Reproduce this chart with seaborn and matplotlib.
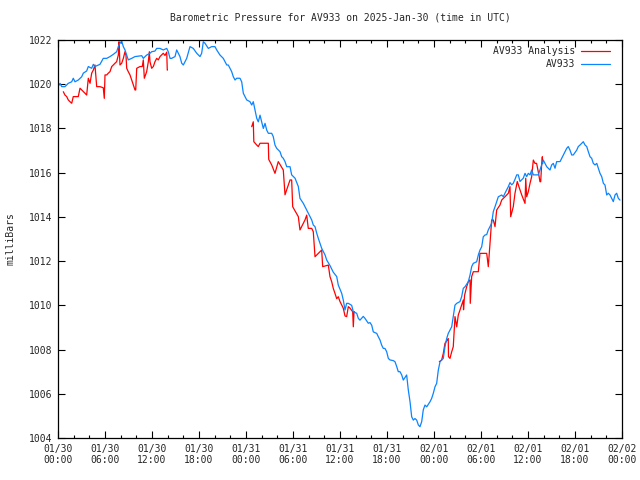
import matplotlib
matplotlib.use('Agg')
import matplotlib.pyplot as plt
import matplotlib.dates as mdates
import seaborn as sns
import pandas as pd
import numpy as np

# hours after 2025-01-30 00:00 UTC, pressure in millibars
station_hours = [
    0.0, 0.26, 0.47, 0.89, 1.31, 1.75, 1.95, 2.17, 2.59, 3.03, 3.23, 3.66, 3.87, 4.30, 4.51, 4.72,
    5.36, 5.78, 6.22, 6.64, 7.06, 7.49, 7.70, 7.91, 8.13, 8.34, 8.55, 8.77, 8.97, 9.41, 9.83,
    10.69, 10.89, 11.32, 11.74, 11.96, 12.38, 12.60, 13.02, 13.44, 13.88, 14.08, 14.30, 14.51,
    14.94, 15.15, 15.57, 15.79, 16.00, 16.43, 16.85, 17.27, 17.71, 18.13, 18.34, 18.55, 18.77,
    19.19, 19.62, 20.04, 20.26, 20.68, 21.10, 21.54, 21.74, 21.96, 22.17, 22.38, 22.60, 22.81,
    23.23, 23.45, 23.66, 23.87, 24.09, 24.51, 24.73, 24.93, 25.15, 25.37, 25.57, 25.79, 26.00,
    26.21, 26.43, 26.64, 26.85, 27.28, 27.48, 27.70, 27.92, 28.34, 28.56, 28.76, 28.98, 29.20,
    29.62, 29.83, 30.26, 30.68, 30.89, 31.32, 31.75, 31.95, 32.17, 32.39, 32.59, 32.81, 33.03,
    33.23, 33.45, 33.66, 33.87, 34.09, 34.30, 34.72, 35.14, 35.58, 35.78, 36.22, 36.42, 36.64,
    36.85, 37.06, 37.49, 37.70, 38.13, 38.34, 38.55, 38.97, 39.19, 39.61, 39.83, 40.05, 40.25,
    40.69, 40.89, 41.11, 41.32, 41.53, 41.74, 41.96, 42.17, 42.38, 42.80, 43.02, 43.24, 43.44,
    43.66, 43.88, 44.08, 44.51, 44.72, 44.94, 45.15, 45.36, 45.57, 45.79, 46.00, 46.21, 46.43,
    46.63, 46.85, 47.07, 47.49, 47.70, 47.91, 48.13, 48.34, 48.55, 48.77, 49.19, 49.40, 49.62,
    49.82, 50.04, 50.26, 50.46, 50.68, 50.90, 51.32, 51.53, 51.74, 51.96, 52.38, 52.60, 52.81,
    53.02, 53.45, 53.66, 53.87, 54.09, 54.29, 54.51, 54.73, 54.93, 55.36, 55.57, 55.79, 56.00,
    56.21, 56.64, 56.85, 57.06, 57.28, 57.49, 57.70, 57.92, 58.12, 58.34, 58.56, 58.76, 58.98,
    59.40, 59.62, 59.83, 60.04, 60.26, 60.47, 60.68, 60.89, 61.31, 61.53, 61.75, 61.95, 62.17,
    62.39, 62.81, 63.02, 63.23, 63.45, 63.66, 64.09, 64.30, 64.51, 64.72, 64.94, 65.14, 65.36,
    65.58, 65.78, 66.22, 66.42, 66.64, 67.06, 67.28, 67.50, 67.70, 67.92, 68.13, 68.34, 68.56,
    68.78, 68.98, 69.19, 69.41, 69.62, 69.83, 70.05, 70.25, 70.47, 70.68, 70.89, 71.11, 71.32,
    71.53, 71.74,
]
station_mb = [
    1019.89, 1020.04, 1019.89, 1019.89, 1020.04, 1020.11, 1020.27, 1020.11, 1020.19, 1020.34,
    1020.50, 1020.60, 1020.80, 1020.72, 1020.90, 1020.80, 1020.90, 1021.17, 1021.17, 1021.25,
    1021.35, 1021.47, 1021.70, 1021.85, 1021.95, 1021.70, 1021.55, 1021.32, 1021.10, 1021.17,
    1021.25, 1021.29, 1021.17, 1021.32, 1021.40, 1021.47, 1021.50, 1021.62, 1021.62, 1021.55,
    1021.62, 1021.47, 1021.17, 1021.17, 1021.25, 1021.55, 1021.25, 1020.95, 1020.87, 1021.17,
    1021.70, 1021.62, 1021.40, 1021.25, 1021.40, 1021.92, 1021.85, 1021.62, 1021.70, 1021.70,
    1021.55, 1021.32, 1021.17, 1020.87, 1020.87, 1020.72, 1020.57, 1020.34, 1020.19, 1020.27,
    1020.27, 1020.11, 1019.59, 1019.44, 1019.29, 1019.21, 1019.06, 1019.21, 1018.83, 1018.46,
    1018.30, 1018.60, 1018.30, 1018.00, 1018.23, 1017.93, 1017.78, 1017.78, 1017.63, 1017.25,
    1017.10, 1016.95, 1016.72, 1016.65, 1016.50, 1016.27, 1016.27, 1015.90, 1015.75, 1015.37,
    1014.84, 1014.61, 1014.31, 1014.16, 1014.01, 1013.86, 1013.63, 1013.56, 1013.26, 1013.03,
    1012.80, 1012.58, 1012.43, 1012.28, 1012.05, 1011.80, 1011.50, 1011.30, 1010.92, 1010.54,
    1010.24, 1009.79, 1010.09, 1010.09, 1010.00, 1009.71, 1009.64, 1009.41, 1009.33, 1009.50,
    1009.41, 1009.19, 1009.22, 1009.10, 1008.80, 1008.73, 1008.58, 1008.43, 1008.20, 1008.05,
    1008.05, 1007.90, 1007.60, 1007.53, 1007.50, 1007.45, 1007.23, 1007.00, 1007.00, 1006.85,
    1006.62, 1006.85, 1006.17, 1005.64, 1004.96, 1004.81, 1004.88, 1004.81, 1004.59, 1004.51,
    1004.74, 1005.27, 1005.49, 1005.41, 1005.64, 1005.79, 1006.02, 1006.32, 1006.47, 1007.07,
    1007.45, 1007.60, 1008.13, 1008.50, 1008.73, 1008.88, 1009.03, 1009.49, 1010.01, 1010.09,
    1010.17, 1010.39, 1010.77, 1010.84, 1011.07, 1011.37, 1011.75, 1011.90, 1011.97, 1012.28,
    1012.50, 1012.65, 1013.10, 1013.18, 1013.20, 1013.41, 1013.71, 1014.24, 1014.46, 1014.69,
    1014.91, 1014.99, 1014.91, 1015.07, 1015.22, 1015.37, 1015.55, 1015.45, 1015.52, 1015.70,
    1015.90, 1015.90, 1015.60, 1015.75, 1015.97, 1015.82, 1015.97, 1015.90, 1016.12, 1015.90,
    1015.90, 1015.90, 1016.12, 1016.35, 1016.57, 1016.42, 1016.27, 1016.12, 1016.35, 1016.42,
    1016.20, 1016.50, 1016.50, 1016.65, 1016.80, 1016.95, 1017.10, 1017.18, 1017.02, 1016.80,
    1016.80, 1017.02, 1017.18, 1017.25, 1017.40, 1017.25, 1017.18, 1016.95, 1016.72, 1016.65,
    1016.42, 1016.35, 1016.42, 1016.20, 1015.97, 1015.82, 1015.52, 1015.44, 1014.99, 1015.07,
    1014.99, 1014.84, 1014.69, 1014.99, 1015.07, 1014.84, 1014.76,
]

# analysis comes in three separate stretches
analysis_seg = [1] * 63 + [2] * 49 + [3] * 56
analysis_hours = [
    0.68, 0.89, 1.11, 1.31, 1.53, 1.75, 1.95, 2.59, 2.81, 3.03, 3.45, 3.66, 3.87, 4.09, 4.30,
    4.51, 4.72, 4.94, 5.36, 5.78, 5.91, 6.00, 6.22, 6.42, 6.64, 6.86, 7.06, 7.28, 7.49, 7.70,
    7.79, 7.91, 8.13, 8.34, 8.55, 8.68, 8.77, 8.97, 9.19, 9.41, 9.83, 9.92, 10.05, 10.47, 10.76,
    10.89, 11.02, 11.32, 11.53, 11.66, 11.74, 11.96, 12.17, 12.38, 12.60, 12.81, 13.02, 13.44,
    13.66, 13.88, 13.95, 13.96, 13.97,
    24.73, 24.93, 25.00, 25.37, 25.57, 25.79, 26.85, 26.90, 27.28, 27.70, 28.12, 28.76, 28.98,
    29.62, 29.83, 29.96, 30.68, 30.89, 31.53, 31.75, 31.95, 32.39, 32.59, 32.81, 33.66, 33.79,
    34.51, 34.72, 34.94, 35.14, 35.36, 35.58, 35.78, 36.00, 36.42, 36.64, 36.85, 37.06, 37.28,
    37.62, 37.70, 37.79, 37.80, 37.81, 37.82, 37.83, 37.84, 37.85, 37.86,
    48.68, 48.98, 49.19, 49.40, 49.82, 49.85, 50.04, 50.26, 50.46, 50.68, 50.90, 51.10, 51.32,
    51.74, 51.77, 51.90, 51.96, 52.17, 52.38, 52.60, 52.63, 52.81, 53.02, 53.66, 53.87, 54.73,
    54.93, 55.15, 55.36, 55.57, 55.79, 56.00, 56.43, 56.64, 56.85, 57.06, 57.49, 57.70, 57.79,
    58.12, 58.34, 58.63, 58.98, 59.19, 59.62, 59.71, 59.83, 60.04, 60.26, 60.47, 60.68, 60.89,
    61.10, 61.31, 61.53, 61.62,
]
analysis_mb = [
    1019.66, 1019.51, 1019.44, 1019.29, 1019.21, 1019.14, 1019.44, 1019.44, 1019.82, 1019.74,
    1019.59, 1019.51, 1020.27, 1020.04, 1020.50, 1020.64, 1020.87, 1019.89, 1019.89, 1019.84,
    1019.36, 1020.42, 1020.42, 1020.50, 1020.57, 1020.80, 1020.87, 1020.95, 1021.02, 1021.32,
    1021.92, 1020.87, 1020.95, 1021.17, 1021.47, 1021.30, 1020.72, 1020.57, 1020.42, 1020.19,
    1019.74, 1019.74, 1020.72, 1020.80, 1020.80, 1021.10, 1020.27, 1020.57, 1021.02, 1021.47,
    1021.02, 1020.72, 1020.80, 1021.02, 1021.17, 1021.10, 1021.25, 1021.40, 1021.30, 1021.45,
    1020.64, 1020.64, 1020.64,
    1018.08, 1018.30, 1017.40, 1017.25, 1017.18, 1017.33, 1017.33, 1016.60, 1016.35, 1015.97,
    1016.50, 1016.12, 1015.00, 1015.67, 1015.67, 1014.46, 1014.01, 1013.41, 1013.86, 1014.08,
    1013.48, 1013.48, 1013.33, 1012.20, 1012.50, 1011.75, 1011.82, 1011.30, 1011.07, 1010.77,
    1010.54, 1010.30, 1010.39, 1010.17, 1009.87, 1009.52, 1009.49, 1009.94, 1009.87, 1009.71,
    1009.03, 1009.71, 1009.71, 1009.71, 1009.71, 1009.71, 1009.71, 1009.71, 1009.71,
    1007.45, 1007.53, 1007.83, 1008.28, 1008.50, 1007.68, 1007.60, 1007.90, 1008.13, 1009.49,
    1009.03, 1009.56, 1009.79, 1010.24, 1009.80, 1010.45, 1010.54, 1010.84, 1011.07, 1011.15,
    1010.09, 1011.30, 1011.52, 1011.52, 1012.35, 1012.35, 1011.75, 1012.80, 1013.86, 1013.86,
    1013.56, 1014.31, 1014.54, 1014.76, 1014.84, 1014.91, 1015.07, 1015.37, 1014.01, 1014.46,
    1015.07, 1015.60, 1015.22, 1015.00, 1014.61, 1015.75, 1014.91, 1015.14, 1015.52, 1015.82,
    1016.57, 1016.42, 1016.42, 1016.04, 1015.59, 1015.59,
]
analysis_tail_hours = [61.75, 61.83, 61.88]
analysis_tail_mb = [1016.42, 1016.72, 1016.42]

start = pd.Timestamp('2025-01-30 00:00')

station = pd.DataFrame({'time': start + pd.to_timedelta(station_hours, unit='h'),
                        'mb': station_mb})
analysis = pd.DataFrame({'hours': analysis_hours + analysis_tail_hours,
                         'mb': analysis_mb + analysis_tail_mb,
                         'seg': analysis_seg[:len(analysis_hours)] + [3] * 3})
analysis['time'] = start + pd.to_timedelta(analysis['hours'], unit='h')

sns.set_style('ticks')
plt.rcParams['font.family'] = ['DejaVu Sans Mono', 'DejaVu Sans']
plt.rcParams['font.size'] = 7

fig = plt.figure(figsize=(6.4, 4.8), dpi=100)
ax = fig.add_axes([58 / 640, 1 - 438 / 480, 564 / 640, 398 / 480])

sns.lineplot(data=analysis, x='time', y='mb', units='seg', estimator=None,
             color='#ff0000', linewidth=0.9, label='AV933 Analysis', ax=ax)
sns.lineplot(data=station, x='time', y='mb', color='#0a84ff', linewidth=0.9,
             label='AV933', ax=ax)

ax.set_xlim(start, start + pd.Timedelta(hours=72))
ax.set_ylim(1004, 1022)
ax.set_yticks(np.arange(1004, 1023, 2))
ax.xaxis.set_major_locator(mdates.HourLocator(byhour=range(0, 24, 6)))
ax.xaxis.set_minor_locator(mdates.HourLocator(byhour=range(0, 24, 2)))
ax.xaxis.set_major_formatter(mdates.DateFormatter('%m/%d\n%H:%M'))
ax.tick_params(which='both', direction='in', top=True, right=True, color='black',
               labelsize=7, pad=4)
ax.tick_params(which='major', length=5, width=0.8)
ax.tick_params(which='minor', length=2.5, width=0.8)
for s in ax.spines.values():
    s.set_color('black')
    s.set_linewidth(0.9)

ax.set_xlabel('')
ax.set_ylabel('milliBars', fontsize=7)
ax.yaxis.set_label_coords(-0.075, 0.5)
ax.set_title('Barometric Pressure for AV933 on 2025-Jan-30 (time in UTC)',
             fontsize=7, pad=14)

handles, labels = ax.get_legend_handles_labels()
uniq = dict(zip(labels, handles))
ax.legend(uniq.values(), uniq.keys(), loc='upper right', frameon=False,
          markerfirst=False, handlelength=3.0, labelspacing=0.3,
          bbox_to_anchor=(0.99, 1.0), borderaxespad=0.25, fontsize=7,
          handletextpad=0.6)

plt.savefig('out.png', dpi=100)
plt.close('all')
